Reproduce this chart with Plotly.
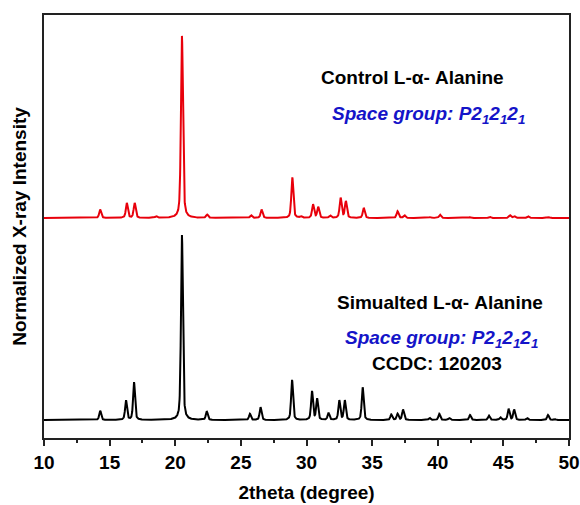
import numpy as np
import plotly.graph_objects as go

# Peak lists (2theta in degrees, relative intensity)
control_pos = [14.28, 16.31, 16.91, 18.54, 20.51, 22.43, 25.77, 26.58, 28.92, 29.58,
               30.50, 30.89, 31.80, 32.60, 33.00, 34.36, 36.94, 37.46, 39.43, 40.17,
               42.46, 43.95, 45.50, 45.82, 46.87, 48.45]
control_int = [0.046, 0.082, 0.082, 0.009, 1.0, 0.018, 0.015, 0.046, 0.223, 0.009,
               0.073, 0.060, 0.013, 0.110, 0.091, 0.055, 0.037, 0.015, 0.005, 0.018,
               0.005, 0.007, 0.015, 0.010, 0.010, 0.005]

sim_pos = [14.28, 16.25, 16.86, 20.51, 22.40, 25.69, 26.50, 28.90, 30.42, 30.81,
           31.68, 32.50, 32.92, 34.28, 36.46, 36.94, 37.36, 39.38, 40.12, 40.88,
           42.46, 43.90, 44.77, 45.40, 45.82, 46.80, 48.40, 48.90]
sim_int = [0.050, 0.105, 0.204, 1.0, 0.047, 0.033, 0.069, 0.217, 0.154, 0.114,
           0.038, 0.105, 0.105, 0.177, 0.029, 0.033, 0.056, 0.011, 0.033, 0.011,
           0.027, 0.024, 0.014, 0.060, 0.056, 0.011, 0.027, 0.005]

x_ticks = [10, 15, 20, 25, 30, 35, 40, 45, 50]
control_offset = 1.092
control_scale = 0.984

two_theta = np.linspace(10, 50, 4001)


def pattern(positions, intensities, fwhm, eta=0.5):
    """Pseudo-Voigt peak profiles summed and normalised to the strongest reflection."""
    y = np.zeros_like(two_theta)
    s = fwhm / 2.3548
    g = fwhm / 2
    for p, h in zip(positions, intensities):
        d = two_theta - p
        lor = g**2 / (d**2 + g**2)
        gau = np.exp(-d**2 / (2 * s**2))
        y += h * (eta * lor + (1 - eta) * gau)
    return y / y.max()


sim_y = pattern(sim_pos, sim_int, 0.17)
ctrl_y = control_offset + control_scale * pattern(control_pos, control_int, 0.18)

fig = go.Figure()
fig.add_trace(go.Scatter(x=two_theta, y=sim_y, mode="lines",
                         line=dict(color="black", width=2), showlegend=False))
fig.add_trace(go.Scatter(x=two_theta, y=ctrl_y, mode="lines",
                         line=dict(color="#e8000b", width=2), showlegend=False))

font = "Liberation Sans, Arial, sans-serif"
blue = "#1414c8"
sg_text = "<b><i>Space group: P2<sub>1</sub>2<sub>1</sub>2<sub>1</sub></i></b>"

labels = [
    (38.11, 1.849, "<b>Control L-\u03b1- Alanine</b>", "black"),
    (39.26, 1.650, sg_text, blue),
    (40.17, 0.638, "<b>Simualted L-\u03b1- Alanine</b>", "black"),
    (40.32, 0.440, sg_text, blue),
    (39.94, 0.308, "<b>CCDC: 120203</b>", "black"),
]
for lx, ly, txt, col in labels:
    fig.add_annotation(x=lx, y=ly, text=txt, showarrow=False,
                       xanchor="center", yanchor="middle",
                       font=dict(family=font, size=19, color=col))

fig.update_layout(
    width=580, height=505,
    margin=dict(l=44, r=11, t=15, b=67),
    paper_bgcolor="white", plot_bgcolor="white",
    font=dict(family=font, size=19, color="black"),
    xaxis=dict(
        range=[10, 50], tickvals=x_ticks,
        ticktext=[f"<b>{v}</b>" for v in x_ticks],
        ticks="outside", ticklen=6, tickwidth=1.5, tickcolor="#222",
        minor=dict(dtick=2.5, tick0=10, ticks="outside", ticklen=3,
                   tickwidth=1.5, tickcolor="#222", showgrid=False),
        showline=True, linecolor="#222", linewidth=2, mirror=True,
        showgrid=False, zeroline=False, automargin=False,
        tickfont=dict(family=font, size=19, color="black"),
        title=dict(text="<b>2theta (degree)</b>", standoff=14,
                   font=dict(family=font, size=19, color="black")),
    ),
    yaxis=dict(
        range=[-0.097, 2.189], showticklabels=False, ticks="",
        showline=True, linecolor="#222", linewidth=2, mirror=True,
        showgrid=False, zeroline=False, automargin=False,
        title=dict(text="<b>Normalized X-ray Intensity</b>", standoff=10,
                   font=dict(family=font, size=19, color="black")),
    ),
)

fig.write_html("out.html")
